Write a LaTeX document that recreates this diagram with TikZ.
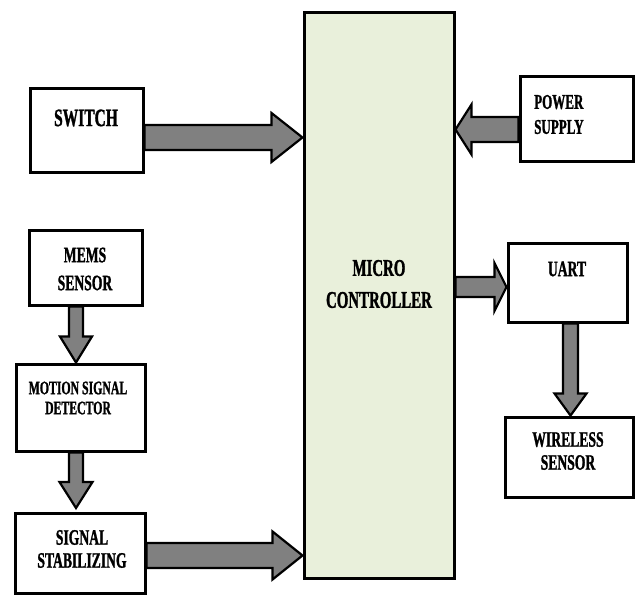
\documentclass[tikz,border=0pt]{standalone}
\usepackage{fontspec}
\setmainfont[FakeStretch=0.62, BoldFeatures={FakeBold=1.2}]{Liberation Serif}
\usetikzlibrary{calc}
\definecolor{mcfill}{HTML}{E9F0DB}
\definecolor{arrfill}{HTML}{808080}
\tikzset{
  box/.style={draw=black, line width=3pt, fill=white, inner sep=0pt},
  lbl/.style={font=\bfseries, align=center, inner sep=0pt, text=black},
  barrow/.style={draw=black, line width=2.2pt, fill=arrfill, line join=miter},
}
% #1 start, #2 tip, #3 half shaft, #4 half head, #5 head length
\newcommand{\fatarrow}[5]{%
  \path coordinate (H) at ($(#2)!#5!(#1)$);
  \draw[barrow] ($(#1)!#3!90:(#2)$) -- ($(H)!#3!-90:(#1)$) -- ($(H)!#4!-90:(#1)$) -- (#2)
    -- ($(H)!#4!90:(#1)$) -- ($(H)!#3!90:(#1)$) -- ($(#1)!#3!-90:(#2)$) -- cycle;}
\begin{document}
\begin{tikzpicture}[x=1pt, y=-1pt]
\useasboundingbox (0,0) rectangle (635,597);
% boxes
\node[box, fill=mcfill, minimum width=150pt, minimum height=566pt] (mc) at (379,295) {};
\node[box, minimum width=113pt, minimum height=84pt] (sw) at (86.5,130) {};
\node[box, minimum width=113pt, minimum height=85pt] (ps) at (576.5,118.5) {};
\node[box, minimum width=113pt, minimum height=75pt] (mems) at (85.5,267.5) {};
\node[box, minimum width=129pt, minimum height=87pt] (msd) at (80.5,407.5) {};
\node[box, minimum width=130pt, minimum height=80pt] (ss) at (80,553) {};
\node[box, minimum width=119pt, minimum height=79pt] (uart) at (567.5,282.5) {};
\node[box, minimum width=128pt, minimum height=80pt] (ws) at (569,457) {};
% arrow end points
\coordinate (a1s) at (sw.east |- 0,137.5);
\coordinate (a1e) at (mc.west |- 0,137.5);
\coordinate (a2s) at (ps.west |- 0,129.5);
\coordinate (a2e) at (mc.east |- 0,129.5);
\coordinate (a3s) at (76,0 |- mems.south);
\coordinate (a3e) at (76,0 |- msd.north);
\coordinate (a4s) at (76,0 |- msd.south);
\coordinate (a4e) at (76,508);
\coordinate (a5s) at (ss.east |- 0,555.5);
\coordinate (a5e) at (mc.west |- 0,555.5);
\coordinate (a6s) at (mc.east |- 0,287);
\coordinate (a6e) at (uart.west |- 0,287);
\coordinate (a7s) at (570.5,0 |- uart.south);
\coordinate (a7e) at (570.5,0 |- ws.north);
\fatarrow{a1s}{a1e}{12.5pt}{24.5pt}{31pt}
\fatarrow{a2s}{a2e}{12.5pt}{25pt}{16pt}
\fatarrow{a3s}{a3e}{7pt}{16pt}{26pt}
\fatarrow{a4s}{a4e}{7pt}{16.5pt}{26pt}
\fatarrow{a5s}{a5e}{12.5pt}{24pt}{30pt}
\fatarrow{a6s}{a6e}{10pt}{24pt}{12pt}
\fatarrow{a7s}{a7e}{7.5pt}{16pt}{22pt}
% labels
\node[lbl, font=\bfseries\fontsize{25}{30}\selectfont] (tsw) at (86,118) {SWITCH};
\node[lbl, align=left, font=\bfseries\fontsize{21}{25}\selectfont, anchor=west] (tps) at (534,114.5) {POWER\\SUPPLY};
\node[lbl, font=\bfseries\fontsize{22}{28}\selectfont] (tmems) at (85,269) {MEMS\\SENSOR};
\node[lbl, font=\bfseries\fontsize{19}{20}\selectfont] (tmsd) at (78,398) {MOTION SIGNAL\\DETECTOR};
\node[lbl, font=\bfseries\fontsize{22}{23}\selectfont] (tss) at (82,549) {SIGNAL\\STABILIZING};
\node[lbl, font=\bfseries\fontsize{22}{26}\selectfont] (tuart) at (567,269) {UART};
\node[lbl, font=\bfseries\fontsize{22}{23}\selectfont] (tws) at (568,451) {WIRELESS\\SENSOR};
\node[lbl, font=\bfseries\fontsize{24}{32}\selectfont] (tmc) at (379,284) {MICRO\\CONTROLLER};
\end{tikzpicture}
\end{document}
